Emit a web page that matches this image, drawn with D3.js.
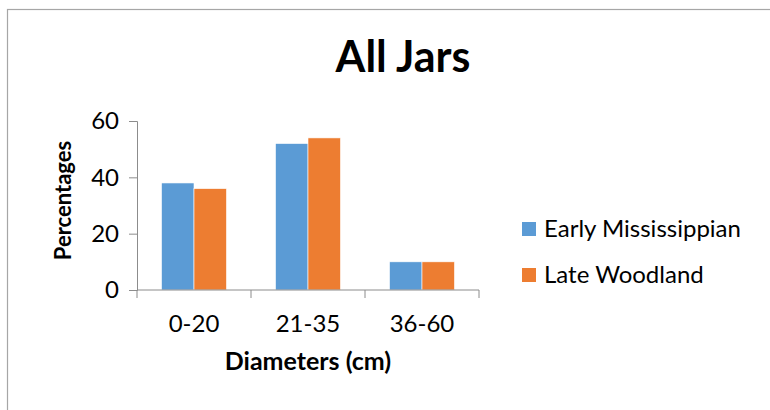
<!DOCTYPE html>
<html>
<head>
<meta charset="utf-8">
<script src="https://cdn.jsdelivr.net/npm/d3@7"></script>
<style>
  html, body { margin: 0; padding: 0; background: #fff; }
  svg { display: block; }
  text { font-family: Lato, "Open Sans", sans-serif; fill: #000; }
</style>
</head>
<body>
<svg id="chart" width="770" height="410"></svg>
<script>
// Jar diameter distribution by period
const categories = ["0-20", "21-35", "36-60"];
const seriesNames = ["Early Mississippian", "Late Woodland"];
const earlyMississippian = [38, 52, 10];
const lateWoodland = [36, 54, 10];
const yTicks = [0, 20, 40, 60];
const colors = ["#5B9BD5", "#ED7D31"];

const seriesValues = [earlyMississippian, lateWoodland];

const svg = d3.select("#chart");

// chart area frame
svg.append("rect")
  .attr("x", 7.5).attr("y", 9.5)
  .attr("width", 800).attr("height", 450)
  .attr("fill", "none").attr("stroke", "#a6a6a6").attr("stroke-width", 1.2);

const plot = { left: 137, right: 479, top: 121, bottom: 290 };

const x0 = d3.scaleBand().domain(categories).range([plot.left, plot.right]);
const x1 = d3.scaleBand().domain(seriesNames).range([0, x0.bandwidth()]).paddingOuter(0.754).paddingInner(0);
const y = d3.scaleLinear().domain([0, 60]).range([plot.bottom, plot.top]);

// bars
const groups = svg.append("g").selectAll("g")
  .data(categories)
  .join("g")
  .attr("transform", c => `translate(${x0(c)},0)`);

groups.selectAll("rect")
  .data((c, i) => seriesNames.map((s, k) => ({ s, v: seriesValues[k][i], k })))
  .join("rect")
  .attr("x", d => x1(d.s))
  .attr("width", x1.bandwidth())
  .attr("y", d => y(d.v))
  .attr("height", d => y(0) - y(d.v))
  .attr("fill", d => colors[d.k])
  .attr("stroke", "#fff").attr("stroke-width", 0.6);

// y axis
const yAxis = svg.append("g")
  .attr("transform", `translate(${plot.left},0)`)
  .call(d3.axisLeft(y).tickValues(yTicks).tickSize(8).tickPadding(10).tickFormat(d3.format("d")));
yAxis.select(".domain").attr("stroke", "#8c8c8c");
yAxis.selectAll(".tick line").attr("stroke", "#8c8c8c");
yAxis.selectAll(".tick text").attr("font-size", 24).attr("font-family", "Lato, sans-serif").attr("fill", "#000");

// x axis with tick marks at band edges
const xAxis = svg.append("g")
  .attr("transform", `translate(0,${plot.bottom})`);
xAxis.append("line")
  .attr("x1", plot.left).attr("x2", plot.right)
  .attr("stroke", "#8c8c8c");
const edges = categories.map(c => x0(c)).concat([x0(categories[categories.length - 1]) + x0.bandwidth()]);
xAxis.selectAll("line.edge")
  .data(edges)
  .join("line")
  .attr("class", "edge")
  .attr("x1", d => d).attr("x2", d => d)
  .attr("y1", 0).attr("y2", 8)
  .attr("stroke", "#8c8c8c");
xAxis.selectAll("text")
  .data(categories)
  .join("text")
  .attr("x", c => x0(c) + x0.bandwidth() / 2)
  .attr("y", 42)
  .attr("text-anchor", "middle")
  .attr("font-size", 24)
  .text(c => c);

// titles
svg.append("text")
  .attr("x", 403).attr("y", 72)
  .attr("text-anchor", "middle")
  .attr("font-size", 43).attr("font-weight", 700)
  .text("All Jars");

svg.append("text")
  .attr("x", (plot.left + plot.right) / 2).attr("y", 370)
  .attr("text-anchor", "middle")
  .attr("font-size", 25).attr("font-weight", 700)
  .text("Diameters (cm)");

svg.append("text")
  .attr("transform", `translate(71,${(plot.top + plot.bottom) / 2 - 5}) rotate(-90)`)
  .attr("text-anchor", "middle")
  .attr("font-size", 22).attr("font-weight", 700)
  .text("Percentages");

// legend
const legend = svg.append("g").selectAll("g")
  .data(seriesNames)
  .join("g")
  .attr("transform", (d, i) => `translate(522,${222 + i * 46})`);
legend.append("rect")
  .attr("width", 14).attr("height", 14)
  .attr("fill", (d, i) => colors[i]);
legend.append("text")
  .attr("x", 22).attr("y", 15)
  .attr("font-size", 24)
  .text(d => d);
</script>
</body>
</html>
